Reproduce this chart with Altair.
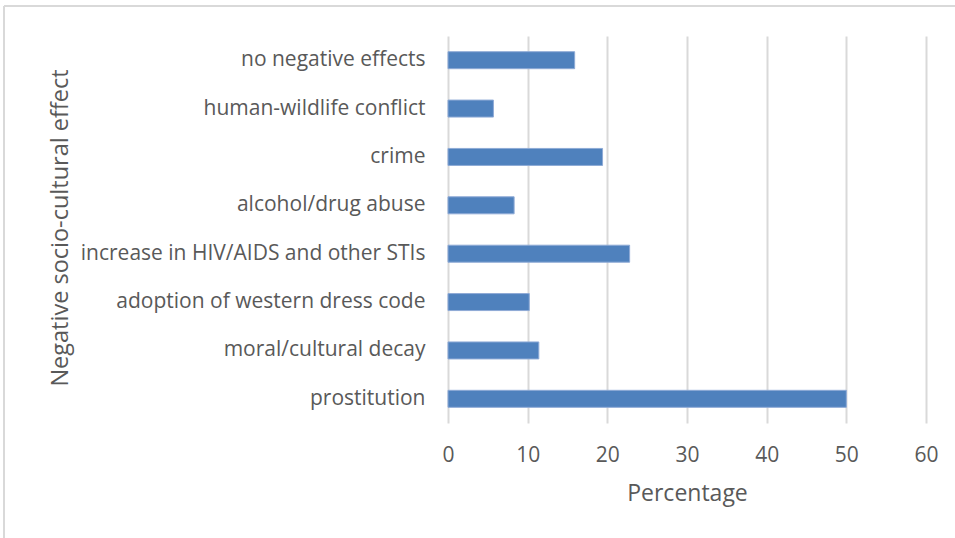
import altair as alt
import pandas as pd

categories = [
    "no negative effects",
    "human-wildlife conflict",
    "crime",
    "alcohol/drug abuse",
    "increase in HIV/AIDS and other STIs",
    "adoption of western dress code",
    "moral/cultural decay",
    "prostitution",
]
values = [15.9, 5.7, 19.4, 8.3, 22.8, 10.2, 11.4, 50.0]
x_ticks = [0, 10, 20, 30, 40, 50, 60]

df = pd.DataFrame({"effect": categories, "pct": values})

W, H = 478, 387
TEXT = "#595959"
FONT = "Open Sans"

bars = alt.Chart(df).mark_bar(
    color="#4F81BD", stroke="#8EAAD6", strokeWidth=1, size=17
).encode(
    x=alt.X(
        "pct:Q",
        scale=alt.Scale(domain=[0, 60], nice=False, zero=True),
        axis=alt.Axis(
            values=x_ticks,
            title="Percentage",
            grid=True,
            gridColor="#D9D9D9",
            gridWidth=2,
            domain=False,
            ticks=False,
            labelFlush=False,
            labelFont=FONT,
            labelFontSize=21,
            labelColor=TEXT,
            labelPadding=21,
            titleFont=FONT,
            titleFontSize=23,
            titleFontWeight="normal",
            titleColor=TEXT,
            titlePadding=17,
        ),
    ),
    y=alt.Y(
        "effect:N",
        sort=categories,
        scale=alt.Scale(paddingInner=0.0, paddingOuter=0.0),
        axis=alt.Axis(
            title="Negative socio-cultural  effect",
            domain=False,
            ticks=False,
            grid=False,
            labelFont=FONT,
            labelFontSize=21,
            labelColor=TEXT,
            labelPadding=23,
            labelLimit=500,
            titleFont=FONT,
            titleFontSize=23.5,
            titleFontWeight="normal",
            titleColor=TEXT,
            titleAngle=-90,
            titleX=-388,
            titleY=H / 2 - 2,
            titleAlign="center",
            titleBaseline="middle",
        ),
    ),
)

frame_top = alt.Chart(df).mark_rule(color="#D9D9D9", strokeWidth=1.5).encode(
    x=alt.value(-444), x2=alt.value(W + 40), y=alt.value(-30)
)
frame_left = alt.Chart(df).mark_rule(color="#D9D9D9", strokeWidth=1.5).encode(
    x=alt.value(-444), y=alt.value(-30), y2=alt.value(H + 140)
)

chart = alt.layer(frame_top, frame_left, bars).properties(
    width=W,
    height=H,
    autosize=alt.AutoSizeParams(type="none"),
    padding={"left": 448, "top": 36, "right": 29, "bottom": 115},
    background="white",
).configure_view(stroke=None)

chart.save("out.html", embed_options={"renderer": "svg", "actions": False})
